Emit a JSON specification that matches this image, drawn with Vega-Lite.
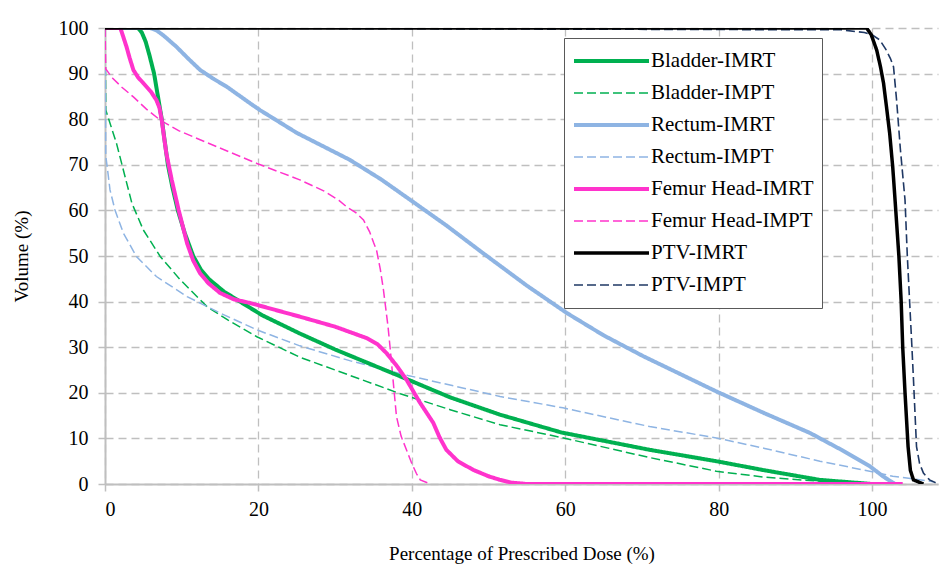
{
  "$schema": "https://vega.github.io/schema/vega-lite/v6.json",
  "width": 833,
  "height": 456,
  "autosize": {"type": "none"},
  "padding": {"left": 105, "top": 28, "right": 1, "bottom": 86},
  "background": "white",
  "config": {
    "font": "Liberation Serif",
    "view": {"stroke": null},
    "axis": {
      "labelFont": "Liberation Serif",
      "titleFont": "Liberation Serif",
      "labelColor": "#000000",
      "titleColor": "#000000",
      "labelFontSize": 20,
      "titleFontSize": 19,
      "titleFontWeight": "normal",
      "gridColor": "#bfbfbf",
      "gridDash": [8, 5],
      "gridWidth": 1.3,
      "domainColor": "#bfbfbf",
      "domainWidth": 2,
      "tickColor": "#bfbfbf",
      "tickWidth": 1.5,
      "tickSize": 7
    }
  },
  "data": {
    "values": [
      {"s": "Bladder-IMPT", "i": 0, "x": 0, "y": 100},
      {"s": "Bladder-IMPT", "i": 1, "x": 0.1, "y": 82},
      {"s": "Bladder-IMPT", "i": 2, "x": 1.5, "y": 74.7},
      {"s": "Bladder-IMPT", "i": 3, "x": 2.6, "y": 67.5},
      {"s": "Bladder-IMPT", "i": 4, "x": 3.5, "y": 61.6},
      {"s": "Bladder-IMPT", "i": 5, "x": 5, "y": 55.7},
      {"s": "Bladder-IMPT", "i": 6, "x": 7.2, "y": 49.9},
      {"s": "Bladder-IMPT", "i": 7, "x": 9.8, "y": 44.8},
      {"s": "Bladder-IMPT", "i": 8, "x": 13.3, "y": 38.9},
      {"s": "Bladder-IMPT", "i": 9, "x": 16, "y": 36},
      {"s": "Bladder-IMPT", "i": 10, "x": 19.8, "y": 32.3},
      {"s": "Bladder-IMPT", "i": 11, "x": 25.4, "y": 27.8},
      {"s": "Bladder-IMPT", "i": 12, "x": 30, "y": 25},
      {"s": "Bladder-IMPT", "i": 13, "x": 38.5, "y": 19.8},
      {"s": "Bladder-IMPT", "i": 14, "x": 45, "y": 16.3},
      {"s": "Bladder-IMPT", "i": 15, "x": 51.5, "y": 13},
      {"s": "Bladder-IMPT", "i": 16, "x": 59.5, "y": 10.2},
      {"s": "Bladder-IMPT", "i": 17, "x": 71, "y": 5.8},
      {"s": "Bladder-IMPT", "i": 18, "x": 79.7, "y": 2.8},
      {"s": "Bladder-IMPT", "i": 19, "x": 86, "y": 1.5},
      {"s": "Bladder-IMPT", "i": 20, "x": 93.2, "y": 0.6},
      {"s": "Bladder-IMPT", "i": 21, "x": 102, "y": 0},

      {"s": "Rectum-IMPT", "i": 0, "x": 0, "y": 100},
      {"s": "Rectum-IMPT", "i": 1, "x": 0.1, "y": 72},
      {"s": "Rectum-IMPT", "i": 2, "x": 0.4, "y": 68},
      {"s": "Rectum-IMPT", "i": 3, "x": 0.65, "y": 64.5},
      {"s": "Rectum-IMPT", "i": 4, "x": 1.3, "y": 60.1},
      {"s": "Rectum-IMPT", "i": 5, "x": 2.4, "y": 55},
      {"s": "Rectum-IMPT", "i": 6, "x": 4.1, "y": 49.9},
      {"s": "Rectum-IMPT", "i": 7, "x": 6.7, "y": 45.5},
      {"s": "Rectum-IMPT", "i": 8, "x": 10.7, "y": 41.1},
      {"s": "Rectum-IMPT", "i": 9, "x": 15, "y": 37.5},
      {"s": "Rectum-IMPT", "i": 10, "x": 19.8, "y": 33.8},
      {"s": "Rectum-IMPT", "i": 11, "x": 25.4, "y": 30.3},
      {"s": "Rectum-IMPT", "i": 12, "x": 32, "y": 27},
      {"s": "Rectum-IMPT", "i": 13, "x": 39.5, "y": 23.8},
      {"s": "Rectum-IMPT", "i": 14, "x": 51.5, "y": 19.2},
      {"s": "Rectum-IMPT", "i": 15, "x": 59.7, "y": 16.7},
      {"s": "Rectum-IMPT", "i": 16, "x": 71, "y": 12.6},
      {"s": "Rectum-IMPT", "i": 17, "x": 79.7, "y": 10.1},
      {"s": "Rectum-IMPT", "i": 18, "x": 86, "y": 7.8},
      {"s": "Rectum-IMPT", "i": 19, "x": 93.2, "y": 5},
      {"s": "Rectum-IMPT", "i": 20, "x": 99.7, "y": 2.8},
      {"s": "Rectum-IMPT", "i": 21, "x": 102.7, "y": 1.7},
      {"s": "Rectum-IMPT", "i": 22, "x": 105, "y": 1.2},
      {"s": "Rectum-IMPT", "i": 23, "x": 108, "y": 0.5},

      {"s": "Femur Head-IMPT", "i": 0, "x": 0, "y": 100},
      {"s": "Femur Head-IMPT", "i": 1, "x": 0.1, "y": 91},
      {"s": "Femur Head-IMPT", "i": 2, "x": 1, "y": 89},
      {"s": "Femur Head-IMPT", "i": 3, "x": 2.2, "y": 87},
      {"s": "Femur Head-IMPT", "i": 4, "x": 3.7, "y": 84.9},
      {"s": "Femur Head-IMPT", "i": 5, "x": 5.4, "y": 82.2},
      {"s": "Femur Head-IMPT", "i": 6, "x": 7.2, "y": 79.8},
      {"s": "Femur Head-IMPT", "i": 7, "x": 9.6, "y": 77.5},
      {"s": "Femur Head-IMPT", "i": 8, "x": 12.4, "y": 75.5},
      {"s": "Femur Head-IMPT", "i": 9, "x": 19.8, "y": 70.3},
      {"s": "Femur Head-IMPT", "i": 10, "x": 25.4, "y": 66.7},
      {"s": "Femur Head-IMPT", "i": 11, "x": 28.5, "y": 64.3},
      {"s": "Femur Head-IMPT", "i": 12, "x": 30.5, "y": 62.2},
      {"s": "Femur Head-IMPT", "i": 13, "x": 31.5, "y": 60.8},
      {"s": "Femur Head-IMPT", "i": 14, "x": 32.7, "y": 59.5},
      {"s": "Femur Head-IMPT", "i": 15, "x": 33.7, "y": 57.9},
      {"s": "Femur Head-IMPT", "i": 16, "x": 34.5, "y": 55.3},
      {"s": "Femur Head-IMPT", "i": 17, "x": 35, "y": 53},
      {"s": "Femur Head-IMPT", "i": 18, "x": 35.4, "y": 51.3},
      {"s": "Femur Head-IMPT", "i": 19, "x": 35.9, "y": 47},
      {"s": "Femur Head-IMPT", "i": 20, "x": 36.3, "y": 42.6},
      {"s": "Femur Head-IMPT", "i": 21, "x": 36.9, "y": 34.5},
      {"s": "Femur Head-IMPT", "i": 22, "x": 37.2, "y": 29.4},
      {"s": "Femur Head-IMPT", "i": 23, "x": 37.6, "y": 22},
      {"s": "Femur Head-IMPT", "i": 24, "x": 38, "y": 14.8},
      {"s": "Femur Head-IMPT", "i": 25, "x": 38.6, "y": 10.5},
      {"s": "Femur Head-IMPT", "i": 26, "x": 39.3, "y": 7.5},
      {"s": "Femur Head-IMPT", "i": 27, "x": 40, "y": 4.5},
      {"s": "Femur Head-IMPT", "i": 28, "x": 40.6, "y": 2.3},
      {"s": "Femur Head-IMPT", "i": 29, "x": 41.1, "y": 0.9},
      {"s": "Femur Head-IMPT", "i": 30, "x": 42.4, "y": 0},

      {"s": "PTV-IMPT", "i": 0, "x": 0, "y": 100},
      {"s": "PTV-IMPT", "i": 1, "x": 96, "y": 99.6},
      {"s": "PTV-IMPT", "i": 2, "x": 99, "y": 99},
      {"s": "PTV-IMPT", "i": 3, "x": 100, "y": 98.5},
      {"s": "PTV-IMPT", "i": 4, "x": 101, "y": 97.4},
      {"s": "PTV-IMPT", "i": 5, "x": 101.8, "y": 95.3},
      {"s": "PTV-IMPT", "i": 6, "x": 102.4, "y": 93.3},
      {"s": "PTV-IMPT", "i": 7, "x": 102.8, "y": 91.5},
      {"s": "PTV-IMPT", "i": 8, "x": 103.2, "y": 84.2},
      {"s": "PTV-IMPT", "i": 9, "x": 103.7, "y": 73.3},
      {"s": "PTV-IMPT", "i": 10, "x": 104.3, "y": 62.3},
      {"s": "PTV-IMPT", "i": 11, "x": 104.6, "y": 50},
      {"s": "PTV-IMPT", "i": 12, "x": 104.9, "y": 40},
      {"s": "PTV-IMPT", "i": 13, "x": 105.2, "y": 30},
      {"s": "PTV-IMPT", "i": 14, "x": 105.4, "y": 23},
      {"s": "PTV-IMPT", "i": 15, "x": 105.8, "y": 8.2},
      {"s": "PTV-IMPT", "i": 16, "x": 106.2, "y": 4.5},
      {"s": "PTV-IMPT", "i": 17, "x": 106.7, "y": 2.4},
      {"s": "PTV-IMPT", "i": 18, "x": 107.5, "y": 0.9},
      {"s": "PTV-IMPT", "i": 19, "x": 108.4, "y": 0.2},

      {"s": "Bladder-IMRT", "i": 0, "x": 0, "y": 100},
      {"s": "Bladder-IMRT", "i": 1, "x": 4.3, "y": 100},
      {"s": "Bladder-IMRT", "i": 2, "x": 4.8, "y": 99},
      {"s": "Bladder-IMRT", "i": 3, "x": 5.3, "y": 97},
      {"s": "Bladder-IMRT", "i": 4, "x": 5.8, "y": 94},
      {"s": "Bladder-IMRT", "i": 5, "x": 6.4, "y": 90},
      {"s": "Bladder-IMRT", "i": 6, "x": 6.9, "y": 85},
      {"s": "Bladder-IMRT", "i": 7, "x": 7.4, "y": 80},
      {"s": "Bladder-IMRT", "i": 8, "x": 8.2, "y": 70},
      {"s": "Bladder-IMRT", "i": 9, "x": 8.8, "y": 65},
      {"s": "Bladder-IMRT", "i": 10, "x": 9.5, "y": 60},
      {"s": "Bladder-IMRT", "i": 11, "x": 10.4, "y": 55},
      {"s": "Bladder-IMRT", "i": 12, "x": 11.5, "y": 50},
      {"s": "Bladder-IMRT", "i": 13, "x": 12.5, "y": 47},
      {"s": "Bladder-IMRT", "i": 14, "x": 13.5, "y": 45},
      {"s": "Bladder-IMRT", "i": 15, "x": 15.5, "y": 42.2},
      {"s": "Bladder-IMRT", "i": 16, "x": 17.6, "y": 40},
      {"s": "Bladder-IMRT", "i": 17, "x": 20.5, "y": 37},
      {"s": "Bladder-IMRT", "i": 18, "x": 25.4, "y": 33},
      {"s": "Bladder-IMRT", "i": 19, "x": 30, "y": 29.5},
      {"s": "Bladder-IMRT", "i": 20, "x": 38.5, "y": 23.6},
      {"s": "Bladder-IMRT", "i": 21, "x": 45, "y": 19},
      {"s": "Bladder-IMRT", "i": 22, "x": 51.5, "y": 15.2},
      {"s": "Bladder-IMRT", "i": 23, "x": 59.5, "y": 11.3},
      {"s": "Bladder-IMRT", "i": 24, "x": 71, "y": 7.5},
      {"s": "Bladder-IMRT", "i": 25, "x": 79.7, "y": 5},
      {"s": "Bladder-IMRT", "i": 26, "x": 86, "y": 3},
      {"s": "Bladder-IMRT", "i": 27, "x": 93.2, "y": 0.9},
      {"s": "Bladder-IMRT", "i": 28, "x": 100, "y": 0},

      {"s": "Rectum-IMRT", "i": 0, "x": 0, "y": 100},
      {"s": "Rectum-IMRT", "i": 1, "x": 5.9, "y": 100},
      {"s": "Rectum-IMRT", "i": 2, "x": 6.7, "y": 99.5},
      {"s": "Rectum-IMRT", "i": 3, "x": 7.6, "y": 98.4},
      {"s": "Rectum-IMRT", "i": 4, "x": 9.3, "y": 95.9},
      {"s": "Rectum-IMRT", "i": 5, "x": 10.9, "y": 93.2},
      {"s": "Rectum-IMRT", "i": 6, "x": 12.4, "y": 90.8},
      {"s": "Rectum-IMRT", "i": 7, "x": 14.1, "y": 88.9},
      {"s": "Rectum-IMRT", "i": 8, "x": 15.9, "y": 87.1},
      {"s": "Rectum-IMRT", "i": 9, "x": 18.9, "y": 83.5},
      {"s": "Rectum-IMRT", "i": 10, "x": 20.2, "y": 82},
      {"s": "Rectum-IMRT", "i": 11, "x": 25, "y": 77},
      {"s": "Rectum-IMRT", "i": 12, "x": 31.9, "y": 71.1},
      {"s": "Rectum-IMRT", "i": 13, "x": 36, "y": 66.8},
      {"s": "Rectum-IMRT", "i": 14, "x": 39.8, "y": 62.3},
      {"s": "Rectum-IMRT", "i": 15, "x": 44.5, "y": 56.7},
      {"s": "Rectum-IMRT", "i": 16, "x": 49.3, "y": 50.6},
      {"s": "Rectum-IMRT", "i": 17, "x": 55, "y": 43.5},
      {"s": "Rectum-IMRT", "i": 18, "x": 60.2, "y": 37.5},
      {"s": "Rectum-IMRT", "i": 19, "x": 65, "y": 32.6},
      {"s": "Rectum-IMRT", "i": 20, "x": 70.2, "y": 28},
      {"s": "Rectum-IMRT", "i": 21, "x": 79.7, "y": 20.3},
      {"s": "Rectum-IMRT", "i": 22, "x": 86, "y": 15.5},
      {"s": "Rectum-IMRT", "i": 23, "x": 91.9, "y": 11.2},
      {"s": "Rectum-IMRT", "i": 24, "x": 96, "y": 7.5},
      {"s": "Rectum-IMRT", "i": 25, "x": 99.7, "y": 3.9},
      {"s": "Rectum-IMRT", "i": 26, "x": 101.5, "y": 1.6},
      {"s": "Rectum-IMRT", "i": 27, "x": 102.7, "y": 0.3},
      {"s": "Rectum-IMRT", "i": 28, "x": 103, "y": 0},

      {"s": "Femur Head-IMRT", "i": 0, "x": 0, "y": 100},
      {"s": "Femur Head-IMRT", "i": 1, "x": 2, "y": 100},
      {"s": "Femur Head-IMRT", "i": 2, "x": 2.3, "y": 98.5},
      {"s": "Femur Head-IMRT", "i": 3, "x": 2.8, "y": 95.9},
      {"s": "Femur Head-IMRT", "i": 4, "x": 3.2, "y": 93.5},
      {"s": "Femur Head-IMRT", "i": 5, "x": 3.7, "y": 90.8},
      {"s": "Femur Head-IMRT", "i": 6, "x": 4.3, "y": 89.2},
      {"s": "Femur Head-IMRT", "i": 7, "x": 5, "y": 87.9},
      {"s": "Femur Head-IMRT", "i": 8, "x": 6, "y": 86},
      {"s": "Femur Head-IMRT", "i": 9, "x": 6.7, "y": 84.2},
      {"s": "Femur Head-IMRT", "i": 10, "x": 7.1, "y": 82.5},
      {"s": "Femur Head-IMRT", "i": 11, "x": 7.4, "y": 79.8},
      {"s": "Femur Head-IMRT", "i": 12, "x": 7.7, "y": 76},
      {"s": "Femur Head-IMRT", "i": 13, "x": 8, "y": 72.5},
      {"s": "Femur Head-IMRT", "i": 14, "x": 8.7, "y": 66.7},
      {"s": "Femur Head-IMRT", "i": 15, "x": 9.6, "y": 60.1},
      {"s": "Femur Head-IMRT", "i": 16, "x": 10.7, "y": 52.8},
      {"s": "Femur Head-IMRT", "i": 17, "x": 11.5, "y": 49},
      {"s": "Femur Head-IMRT", "i": 18, "x": 12.4, "y": 46.2},
      {"s": "Femur Head-IMRT", "i": 19, "x": 13.5, "y": 44},
      {"s": "Femur Head-IMRT", "i": 20, "x": 15, "y": 41.9},
      {"s": "Femur Head-IMRT", "i": 21, "x": 16.8, "y": 40.5},
      {"s": "Femur Head-IMRT", "i": 22, "x": 18.9, "y": 39.7},
      {"s": "Femur Head-IMRT", "i": 23, "x": 25.4, "y": 36.7},
      {"s": "Femur Head-IMRT", "i": 24, "x": 30, "y": 34.5},
      {"s": "Femur Head-IMRT", "i": 25, "x": 34.1, "y": 32},
      {"s": "Femur Head-IMRT", "i": 26, "x": 35.5, "y": 30.7},
      {"s": "Femur Head-IMRT", "i": 27, "x": 36.7, "y": 28.7},
      {"s": "Femur Head-IMRT", "i": 28, "x": 38, "y": 26},
      {"s": "Femur Head-IMRT", "i": 29, "x": 39.3, "y": 22.9},
      {"s": "Femur Head-IMRT", "i": 30, "x": 40.2, "y": 20.3},
      {"s": "Femur Head-IMRT", "i": 31, "x": 41, "y": 18},
      {"s": "Femur Head-IMRT", "i": 32, "x": 41.9, "y": 15.7},
      {"s": "Femur Head-IMRT", "i": 33, "x": 42.8, "y": 13.4},
      {"s": "Femur Head-IMRT", "i": 34, "x": 43.6, "y": 10.3},
      {"s": "Femur Head-IMRT", "i": 35, "x": 44.5, "y": 7.5},
      {"s": "Femur Head-IMRT", "i": 36, "x": 46, "y": 5},
      {"s": "Femur Head-IMRT", "i": 37, "x": 48, "y": 3.1},
      {"s": "Femur Head-IMRT", "i": 38, "x": 50, "y": 1.7},
      {"s": "Femur Head-IMRT", "i": 39, "x": 51.5, "y": 0.9},
      {"s": "Femur Head-IMRT", "i": 40, "x": 53, "y": 0.3},
      {"s": "Femur Head-IMRT", "i": 41, "x": 55, "y": 0},
      {"s": "Femur Head-IMRT", "i": 42, "x": 104, "y": 0},

      {"s": "PTV-IMRT", "i": 0, "x": 0, "y": 100},
      {"s": "PTV-IMRT", "i": 1, "x": 99.3, "y": 100},
      {"s": "PTV-IMRT", "i": 2, "x": 99.9, "y": 98.5},
      {"s": "PTV-IMRT", "i": 3, "x": 100.6, "y": 95.2},
      {"s": "PTV-IMRT", "i": 4, "x": 101.1, "y": 91.5},
      {"s": "PTV-IMRT", "i": 5, "x": 101.5, "y": 87.9},
      {"s": "PTV-IMRT", "i": 6, "x": 101.9, "y": 82.5},
      {"s": "PTV-IMRT", "i": 7, "x": 102.3, "y": 76.9},
      {"s": "PTV-IMRT", "i": 8, "x": 102.7, "y": 69.5},
      {"s": "PTV-IMRT", "i": 9, "x": 103, "y": 62.3},
      {"s": "PTV-IMRT", "i": 10, "x": 103.5, "y": 50},
      {"s": "PTV-IMRT", "i": 11, "x": 103.8, "y": 40},
      {"s": "PTV-IMRT", "i": 12, "x": 104, "y": 30},
      {"s": "PTV-IMRT", "i": 13, "x": 104.3, "y": 20},
      {"s": "PTV-IMRT", "i": 14, "x": 104.7, "y": 8.2},
      {"s": "PTV-IMRT", "i": 15, "x": 105, "y": 3},
      {"s": "PTV-IMRT", "i": 16, "x": 105.4, "y": 0.9},
      {"s": "PTV-IMRT", "i": 17, "x": 106.7, "y": 0}
    ]
  },
  "mark": {"type": "line", "clip": true},
  "encoding": {
    "x": {
      "field": "x",
      "type": "quantitative",
      "scale": {"domain": [0, 108.6], "nice": false, "zero": false},
      "axis": {
        "values": [0, 20, 40, 60, 80, 100],
        "title": "Percentage of Prescribed Dose (%)",
        "labelPadding": 8,
        "titlePadding": 25
      }
    },
    "y": {
      "field": "y",
      "type": "quantitative",
      "scale": {"domain": [0, 100], "nice": false},
      "axis": {
        "values": [0, 10, 20, 30, 40, 50, 60, 70, 80, 90, 100],
        "title": "Volume (%)",
        "labelPadding": 10,
        "titlePadding": 27
      }
    },
    "order": {"field": "i", "type": "quantitative"},
    "color": {
      "field": "s",
      "type": "nominal",
      "scale": {
        "domain": ["Bladder-IMRT", "Bladder-IMPT", "Rectum-IMRT", "Rectum-IMPT", "Femur Head-IMRT", "Femur Head-IMPT", "PTV-IMRT", "PTV-IMPT"],
        "range": ["#00b050", "#00b050", "#8eb4e3", "#8eb4e3", "#ff33cc", "#ff33cc", "#000000", "#1f3864"]
      },
      "legend": {
        "title": null,
        "orient": "none",
        "legendX": 459,
        "legendY": 10,
        "symbolType": "stroke",
        "symbolSize": 5625,
        "clipHeight": 30,
        "rowPadding": 2,
        "padding": 8,
        "labelOffset": 0,
        "labelFont": "Liberation Serif",
        "labelFontSize": 21,
        "labelColor": "#000000",
        "labelLimit": 300,
        "strokeColor": "#595959",
        "fillColor": "#ffffff",
        "symbolOpacity": 1
      }
    },
    "strokeDash": {
      "field": "s",
      "type": "nominal",
      "scale": {
        "type": "ordinal",
        "domain": ["Bladder-IMRT", "Bladder-IMPT", "Rectum-IMRT", "Rectum-IMPT", "Femur Head-IMRT", "Femur Head-IMPT", "PTV-IMRT", "PTV-IMPT"],
        "range": [[1, 0], [9, 4], [1, 0], [9, 4], [1, 0], [9, 4], [1, 0], [9, 4]]
      },
      "legend": null
    },
    "strokeWidth": {
      "field": "s",
      "type": "nominal",
      "scale": {
        "type": "ordinal",
        "domain": ["Bladder-IMRT", "Bladder-IMPT", "Rectum-IMRT", "Rectum-IMPT", "Femur Head-IMRT", "Femur Head-IMPT", "PTV-IMRT", "PTV-IMPT"],
        "range": [4, 1.5, 4, 1.5, 4, 1.5, 3.5, 1.6]
      },
      "legend": null
    }
  }
}
